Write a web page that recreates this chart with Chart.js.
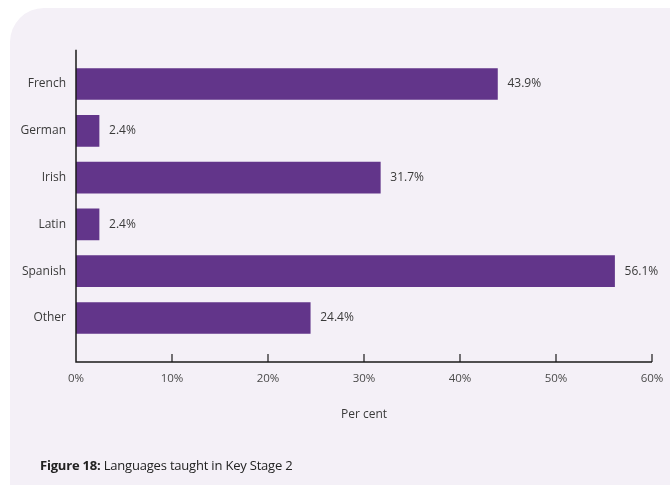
<!DOCTYPE html>
<html>
<head>
<meta charset="utf-8">
<script src="https://cdn.jsdelivr.net/npm/chart.js@4/dist/chart.umd.min.js"></script>
<style>
  html, body { margin: 0; padding: 0; background: #ffffff; }
  #wrap { position: relative; width: 670px; height: 491px; overflow: hidden; }
  #panel {
    position: absolute; left: 10px; top: 8px; right: -20px; bottom: 6px;
    background: #f4f0f7; border-radius: 34px 0 0 0;
  }
  #caption {
    position: absolute; left: 40px; top: 456px;
    font-family: "Open Sans", sans-serif; font-size: 13px; color: #222;
    letter-spacing: -0.2px;
  }
  #caption b { font-weight: 700; }
  canvas { position: absolute; left: 0; top: 0; }
</style>
</head>
<body>
<div id="wrap">
  <div id="panel"></div>
  <canvas id="langChart" width="670" height="491"></canvas>
  <div id="caption"><b>Figure 18:</b> Languages taught in Key Stage 2</div>
</div>
<script>
const languages = ['French', 'German', 'Irish', 'Latin', 'Spanish', 'Other'];
const percentTaught = [43.9, 2.4, 31.7, 2.4, 56.1, 24.4];
const xTicks = [0, 10, 20, 30, 40, 50, 60];

const barColour = '#62358a';
const textColour = '#3a3a3a';
const fontFamily = '"Open Sans", sans-serif';

// axis lines with short inward ticks, and the value beside each bar
const axesAndLabels = {
    id: 'axesAndLabels',
    afterDatasetsDraw(chart) {
        const ctx = chart.ctx;
        const x = chart.scales.x;
        const y = chart.scales.y;
        const top = y.getPixelForValue(-0.73);
        const base = y.getPixelForValue(5.94);
        const left = x.getPixelForValue(0);
        const right = x.getPixelForValue(60);

        ctx.save();
        ctx.strokeStyle = '#1a1a1a';
        ctx.lineWidth = 1.5;
        ctx.beginPath();
        ctx.moveTo(left, top);
        ctx.lineTo(left, base);
        ctx.lineTo(right, base);
        ctx.stroke();

        ctx.lineWidth = 1.2;
        xTicks.forEach(t => {
            if (t === 0) return;
            const px = x.getPixelForValue(t);
            ctx.beginPath();
            ctx.moveTo(px, base);
            ctx.lineTo(px, base - 8);
            ctx.stroke();
        });

        ctx.fillStyle = textColour;
        ctx.font = '12px ' + fontFamily;
        ctx.textBaseline = 'middle';
        ctx.textAlign = 'left';
        const meta = chart.getDatasetMeta(0);
        meta.data.forEach((bar, i) => {
            ctx.fillText(percentTaught[i].toFixed(1) + '%', bar.x + 10, bar.y);
        });
        ctx.restore();
    }
};

const ctx = document.getElementById('langChart').getContext('2d');
new Chart(ctx, {
    type: 'bar',
    data: {
        labels: languages,
        datasets: [{
            data: percentTaught,
            backgroundColor: barColour,
            borderWidth: 0,
            barThickness: 31
        }]
    },
    options: {
        indexAxis: 'y',
        responsive: false,
        animation: false,
        layout: { padding: { top: 60.6, right: 18, left: 0, bottom: 0 } },
        plugins: {
            legend: { display: false },
            tooltip: { enabled: false }
        },
        scales: {
            x: {
                min: 0,
                max: 60,
                afterFit: scale => {
                    scale.height = 149.6;
                    scale.paddingRight = 18;
                    scale.paddingLeft = 0;
                },
                afterBuildTicks: scale => { scale.ticks = xTicks.map(v => ({ value: v })); },
                border: { display: false },
                grid: { display: false, drawTicks: false },
                ticks: {
                    padding: 30,
                    color: '#4a4a4a',
                    font: { family: fontFamily, size: 11.5 },
                    callback: v => v + '%'
                },
                title: {
                    display: true,
                    text: 'Per cent',
                    color: textColour,
                    font: { family: fontFamily, size: 12 },
                    padding: { top: 0, bottom: 69 }
                }
            },
            y: {
                afterFit: scale => { scale.width = 76; },
                border: { display: false },
                grid: { display: false, drawTicks: false },
                ticks: {
                    padding: 10,
                    color: textColour,
                    font: { family: fontFamily, size: 12 }
                }
            }
        }
    },
    plugins: [axesAndLabels]
});
</script>
</body>
</html>
